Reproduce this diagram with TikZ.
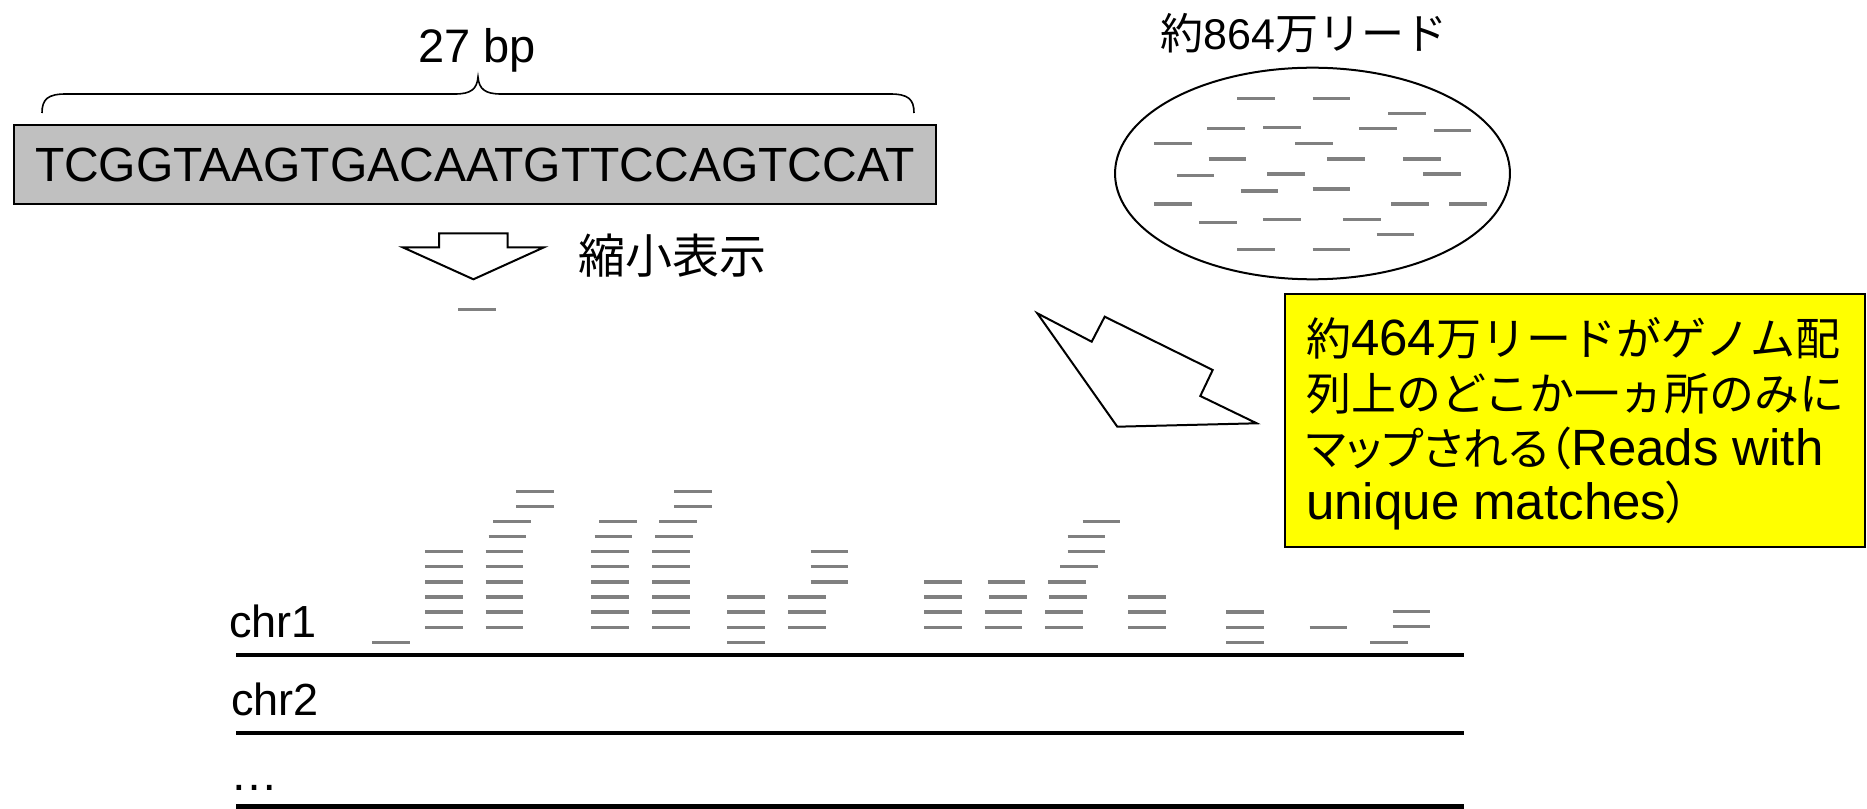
\documentclass[tikz,border=0pt]{standalone}
\usepackage{fontspec}
\setmainfont{Liberation Sans}
\newfontfamily\jp{Noto Sans CJK JP}
\newfontfamily\jpp[RawFeature=+palt]{Noto Sans CJK JP}
\definecolor{readgray}{RGB}{128,128,128}
\definecolor{boxgray}{RGB}{192,192,192}
\definecolor{noteyellow}{RGB}{255,255,0}
\newcommand\rd[2]{\draw[readline] (#1,#2) -- ++(37.5,0);}
\newcommand\cj[1]{{\jp\fontsize{33.75}{40}\selectfont #1}}
\newcommand\cjp[1]{{\jpp\fontsize{33.75}{40}\selectfont #1}}
\begin{document}
\begin{tikzpicture}[x=0.75pt,y=-0.75pt,
  readline/.style={draw=readgray,line width=2.5pt},
  outline/.style={draw=black,line width=1.5pt,line join=miter,fill=white},
  chrline/.style={draw=black,line width=3.4pt},
  lbl/.style={inner sep=0pt,anchor=base west},
  ctr/.style={inner sep=0pt,anchor=base},
]
\useasboundingbox (0,0) rectangle (1867,809);

% ---- 27 bp brace and sequence ----
\node[ctr,font=\fontsize{35.25}{42}\selectfont] (bp) at (477,63) {27 bp};
\draw[line width=1.2pt] (42,113) .. controls (42,99) and (48,94) .. (66,94)
  -- (455,94) .. controls (471,94) and (477,89) .. (478,77)
  .. controls (479,89) and (485,94) .. (501,94)
  -- (890,94) .. controls (908,94) and (914,99) .. (914,113);
\draw[fill=boxgray,line width=1.5pt] (14,125) rectangle (936,204);
\node[ctr,font=\fontsize{36}{43}\selectfont] (seq) at (475,182) {TCGGTAAGTGACAATGTTCCAGTCCAT};

% ---- shrink arrow ----
\draw[outline] (439,233.3) -- (507.7,233.3) -- (507.7,247.3) -- (544,247.3)
  -- (473.4,279.3) -- (402.7,247.3) -- (439,247.3) -- cycle;
\node[ctr,font=\jp\fontsize{35.25}{42}\selectfont] (shrink) at (672,274) {縮小表示};
\rd{458.3}{309.3}

% ---- all reads ----
\node[ctr,font=\fontsize{32.25}{39}\selectfont] (total) at (1304,50) {{\jp 約}864{\jp 万リード}};
\draw[line width=1.5pt] (1312.5,173.5) ellipse [x radius=148.1pt, y radius=79.35pt];
\foreach \x/\y in {1237/98.7,1312.7/98.7,1388.3/113.7,1207/128.7,1263.3/127.7,
  1359.3/128.7,1433.7/130.3,1154/143.7,1295.3/143.7,1208.7/159,1327.3/159,
  1403.3/159,1176.7/175.7,1267.3/174,1423.3/174,1240.7/191,1312.7/189,
  1154/204,1391.3/204,1449/204,1199.3/222.7,1263.3/219.3,1343/219.3,
  1376.7/234.3,1237/249.3,1312.7/249.3}{\rd{\x}{\y}}

% ---- mapping arrow ----
\draw[outline] (1037.3,313.3) -- (1091.7,341.7) -- (1104.7,316.7) -- (1212.7,370)
  -- (1200.3,396) -- (1256.7,423.3) -- (1117.3,426.7) -- cycle;

% ---- note box ----
\draw[fill=noteyellow,line width=1.5pt] (1285,294) rectangle (1865,547);
\begin{scope}[every node/.style={lbl,font=\fontsize{38.25}{46}\selectfont}]
\node (n1) at (1306,355) {\cj{約}464\cj{万リードがゲノム配}};
\node (n2) at (1306,410) {\cj{列上のどこか一ヵ所のみに}};
\node (n3) at (1306,465) {\cjp{マップされる（}Reads with};
\node (n4) at (1306,519) {unique matches\cjp{）}};
\end{scope}

% ---- chromosomes ----
\node[lbl,font=\fontsize{33.75}{40}\selectfont] (chr1) at (229,637) {chr1};
\node[lbl,font=\fontsize{33.75}{40}\selectfont] (chr2) at (231,715) {chr2};
\node[lbl,font=\fontsize{36}{43}\selectfont] (more) at (230,790) {…};
\coordinate (c1a) at (236,655); \coordinate (c1b) at (1464,655);
\coordinate (c2a) at (236,733); \coordinate (c2b) at (1464,733);
\coordinate (c3a) at (236,806.5); \coordinate (c3b) at (1464,806.5);
\draw[chrline] (c1a) -- (c1b);
\draw[chrline] (c2a) -- (c2b);
\draw[chrline] (c3a) -- (c3b);

% ---- mapped reads on chr1 ----
\def\ra{642.3}\def\rb{627.2}\def\rc{612.1}\def\rdd{597}\def\re{581.9}
\def\rf{566.8}\def\rg{551.7}\def\rh{536.6}\def\ri{521.5}\def\rj{506.4}\def\rk{491.3}
\rd{372.3}{\ra}
\foreach \y in {\rb,\rc,\rdd,\re,\rf,\rg}{\rd{425.3}{\y}\rd{485.7}{\y}\rd{591.3}{\y}\rd{652}{\y}}
\rd{488.7}{\rh}\rd{493}{\ri}\rd{516}{\rj}\rd{516}{\rk}
\rd{594.7}{\rh}\rd{599}{\ri}
\rd{655}{\rh}\rd{659.3}{\ri}\rd{674.3}{\rj}\rd{674.3}{\rk}
\foreach \y in {\ra,\rb,\rc,\rdd}{\rd{727.3}{\y}}
\foreach \y in {\rb,\rc,\rdd}{\rd{788}{\y}}
\foreach \y in {\re,\rf,\rg}{\rd{810.7}{\y}}
\foreach \y in {\rb,\rc,\rdd,\re}{\rd{924}{\y}}
\rd{984.7}{\rb}\rd{984.7}{\rc}\rd{989}{\rdd}\rd{987.7}{\re}
\rd{1045}{\rb}\rd{1045}{\rc}\rd{1049.3}{\rdd}\rd{1048}{\re}\rd{1060}{\rf}
\rd{1067.7}{\rg}\rd{1067.7}{\rh}\rd{1082.7}{\ri}
\foreach \y in {\rb,\rc,\rdd}{\rd{1128.3}{\y}}
\foreach \y in {\ra,\rb,\rc}{\rd{1226.3}{\y}}
\rd{1309.7}{\rb}
\rd{1392.7}{626.7}\rd{1392.7}{611.7}\rd{1370.3}{\ra}
\end{tikzpicture}
\end{document}
